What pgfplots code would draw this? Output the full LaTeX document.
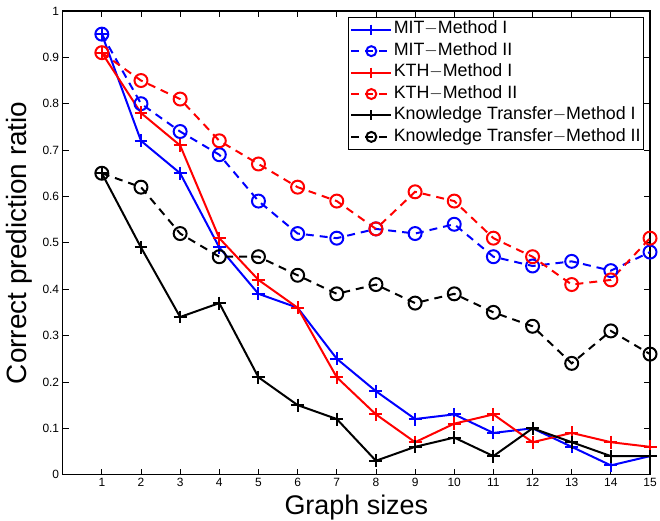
\documentclass[border=0pt]{standalone}
\usepackage{pgfplots}
\pgfplotsset{compat=1.18}
\usepackage{fontspec}
\setmainfont{Liberation Sans}

\begin{document}
\begin{tikzpicture}
\begin{axis}[
  scale only axis,
  width=589pt, height=465pt,
  xmin=0, xmax=15, ymin=0, ymax=1,
  xtick={1,...,15},
  ytick={0,0.1,...,1},
  yticklabels={0,0.1,0.2,0.3,0.4,0.5,0.6,0.7,0.8,0.9,1},
  tick align=inside,
  major tick length=6pt,
  tick style={black, line width=0.8pt},
  axis line style={line width=1.3pt},
  /pgf/number format/assume math mode=true,
  ticklabel style={font=\fontsize{12}{14}\selectfont},
  xlabel={Graph sizes},
  ylabel={Correct prediction ratio},
  xlabel style={font=\fontsize{27}{31}\selectfont, inner sep=0pt,
    text height=20pt, text depth=6pt, yshift=-4pt},
  ylabel style={font=\fontsize{28}{32}\selectfont, inner ysep=6pt, yshift=1pt},
  every axis plot/.append style={line width=2pt, mark size=6.5pt},
  legend style={
    at={(0.990,0.987)}, anchor=north east,
    font=\fontsize{17.9}{20}\selectfont,
    draw=black, line width=1pt,
    row sep=0pt, inner sep=1.5pt,
    nodes={text height=13.5pt, text depth=5pt, inner sep=1.5pt},
    legend cell align=left,
  },
  legend image code/.code={%
    \draw[mark repeat=2, mark phase=2]
      plot coordinates {(0pt,0pt) (20pt,0pt) (40pt,0pt)};},
  legend image post style={mark size=5pt},
]
% MIT, method I
\addplot[blue, mark=+] coordinates {
 (1,0.95) (2,0.72) (3,0.65) (4,0.49) (5,0.39) (6,0.36) (7,0.25) (8,0.18)
 (9,0.12) (10,0.13) (11,0.09) (12,0.10) (13,0.06) (14,0.02) (15,0.04)};
\addlegendentry{MIT$-$Method I}
% MIT, method II
\addplot[blue, dash pattern=on 8pt off 6pt, mark=o, mark options={solid}] coordinates {
 (1,0.95) (2,0.80) (3,0.74) (4,0.69) (5,0.59) (6,0.52) (7,0.51) (8,0.53)
 (9,0.52) (10,0.54) (11,0.47) (12,0.45) (13,0.46) (14,0.44) (15,0.48)};
\addlegendentry{MIT$-$Method II}
% KTH, method I
\addplot[red, mark=+] coordinates {
 (1,0.91) (2,0.78) (3,0.71) (4,0.51) (5,0.42) (6,0.36) (7,0.21) (8,0.13)
 (9,0.07) (10,0.11) (11,0.13) (12,0.07) (13,0.09) (14,0.07) (15,0.06)};
\addlegendentry{KTH$-$Method I}
% KTH, method II
\addplot[red, dash pattern=on 8pt off 6pt, mark=o, mark options={solid}] coordinates {
 (1,0.91) (2,0.85) (3,0.81) (4,0.72) (5,0.67) (6,0.62) (7,0.59) (8,0.53)
 (9,0.61) (10,0.59) (11,0.51) (12,0.47) (13,0.41) (14,0.42) (15,0.51)};
\addlegendentry{KTH$-$Method II}
% Knowledge transfer, method I
\addplot[black, mark=+] coordinates {
 (1,0.65) (2,0.49) (3,0.34) (4,0.37) (5,0.21) (6,0.15) (7,0.12) (8,0.03)
 (9,0.06) (10,0.08) (11,0.04) (12,0.10) (13,0.07) (14,0.04) (15,0.04)};
\addlegendentry{Knowledge Transfer$-$Method I}
% Knowledge transfer, method II
\addplot[black, dash pattern=on 8pt off 6pt, mark=o, mark options={solid}] coordinates {
 (1,0.65) (2,0.62) (3,0.52) (4,0.47) (5,0.47) (6,0.43) (7,0.39) (8,0.41)
 (9,0.37) (10,0.39) (11,0.35) (12,0.32) (13,0.24) (14,0.31) (15,0.26)};
\addlegendentry{Knowledge Transfer$-$Method II}
\end{axis}
% a little white space above the frame
\path (current axis.north) ++(0pt,11pt);
\end{tikzpicture}
\end{document}
